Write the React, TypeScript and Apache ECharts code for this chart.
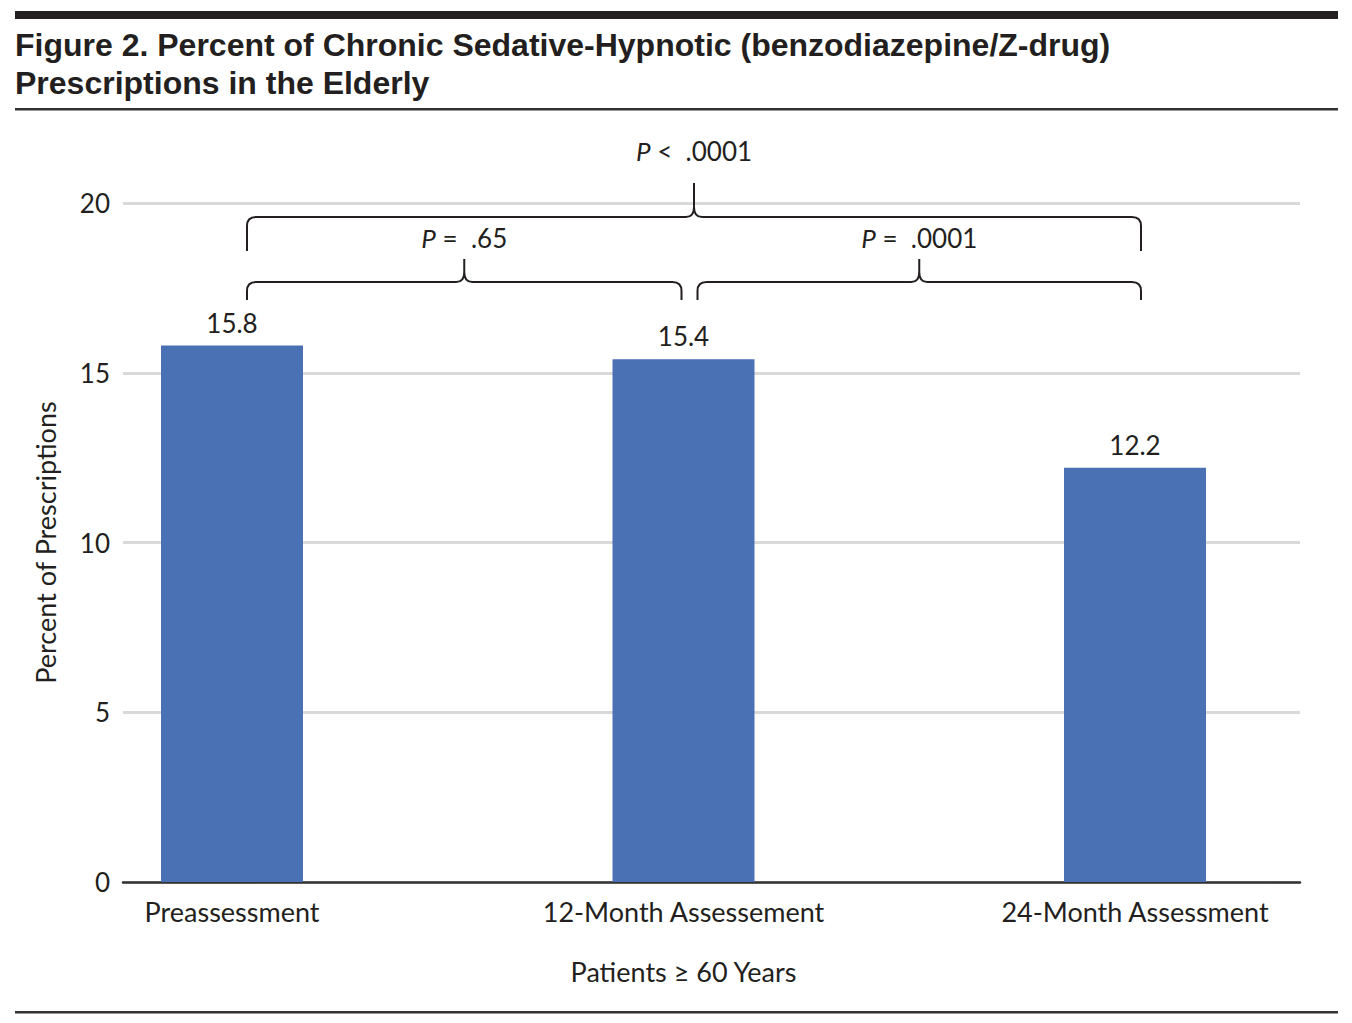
import React, { useEffect, useRef } from "react";
import * as echarts from "echarts";

const categories = ["Preassessment", "12-Month Assessement", "24-Month Assessment"];
const percentValues = [15.8, 15.4, 12.2];
const yTicks = { min: 0, max: 20, interval: 5 };
const titleLines = [
  "Figure 2. Percent of Chronic Sedative-Hypnotic (benzodiazepine/Z-drug)",
  "Prescriptions in the Elderly",
];
const yAxisName = "Percent of Prescriptions";
const xAxisName = "Patients \u2265 60 Years";

// comparison brackets: from category, to category, p-value text, level (percent units)
const bracketFrom = [0, 1, 0];
const bracketTo = [1, 2, 2];
const bracketOp = ["=", "=", "<"];
const bracketP = [".65", ".0001", ".0001"];
const bracketLevel = [17.67, 17.67, 19.59];

// drawing style of brackets (pixels)
const bracketStyle = [
  { fromOff: 15, toOff: -2, drop: 18, rise: 23, gap: 8 },
  { fromOff: 14, toOff: 6, drop: 18, rise: 23, gap: 8 },
  { fromOff: 15, toOff: 6, drop: 34, rise: 34, gap: 19 },
];

const FONT = "Lato, 'Noto Sans', sans-serif";
const TITLE_FONT = "'Liberation Sans', Arial, sans-serif";
const TXT = "#231f20";
const GRID_TOP = 203;
const GRID_BOTTOM = 141;

export default function App() {
  const ref = useRef<HTMLDivElement>(null);
  useEffect(() => {
    if (!ref.current) return;
    const chart = echarts.init(ref.current, null, { renderer: "svg" });
    const bracketData = bracketFrom.map((f, i) => [f, bracketTo[i], bracketLevel[i]]);
    chart.setOption({
      animation: false,
      backgroundColor: "#fff",
      textStyle: { fontFamily: FONT, color: TXT },
      title: titleLines.map((line, i) => ({
        text: line,
        left: 15,
        top: 27 + i * 38,
        padding: 0,
        textStyle: {
          fontFamily: TITLE_FONT,
          fontSize: 32,
          fontWeight: "bold",
          color: TXT,
          lineHeight: 36,
        },
      })),
      graphic: [
        { type: "rect", shape: { x: 15, y: 11, width: 1323, height: 8 }, style: { fill: "#231f20" } },
        { type: "rect", shape: { x: 15, y: 108, width: 1323, height: 2.5 }, style: { fill: "#333" } },
        { type: "rect", shape: { x: 15, y: 1011, width: 1323, height: 2.5 }, style: { fill: "#333" } },
      ],
      grid: [
        { left: 123, right: 52, top: GRID_TOP, bottom: GRID_BOTTOM },
        { left: 232, right: 217, top: GRID_TOP, bottom: GRID_BOTTOM },
      ],
      xAxis: [
        {
          gridIndex: 0,
          type: "value",
          min: 0,
          max: 1,
          axisLine: { show: true, onZero: false, lineStyle: { color: "#333", width: 2.5 } },
          axisTick: { show: false },
          axisLabel: { show: false },
          splitLine: { show: false },
        },
        {
          gridIndex: 1,
          type: "category",
          boundaryGap: false,
          data: categories,
          axisLine: { show: false },
          axisTick: { show: false },
          axisLabel: { fontSize: 27, color: TXT, margin: 16, fontFamily: FONT },
          name: xAxisName,
          nameLocation: "middle",
          nameGap: 76,
          nameTextStyle: { fontSize: 27, color: TXT, fontFamily: FONT },
        },
      ],
      yAxis: [
        {
          gridIndex: 0,
          type: "value",
          min: yTicks.min,
          max: yTicks.max,
          interval: yTicks.interval,
          axisLine: { show: false },
          axisTick: { show: false },
          axisLabel: { fontSize: 26, color: TXT, margin: 13, fontFamily: FONT },
          splitLine: { lineStyle: { color: "#d9d9d9", width: 3 } },
          name: yAxisName,
          nameLocation: "middle",
          nameGap: 64,
          nameRotate: 90,
          nameTextStyle: { fontSize: 27, color: TXT, fontFamily: FONT },
        },
        {
          gridIndex: 1,
          type: "value",
          min: yTicks.min,
          max: yTicks.max,
          interval: yTicks.interval,
          show: false,
          splitLine: { show: false },
        },
      ],
      series: [
        {
          type: "bar",
          xAxisIndex: 1,
          yAxisIndex: 1,
          data: percentValues,
          barWidth: 142,
          itemStyle: { color: "#4a71b4" },
          label: {
            show: true,
            position: "top",
            distance: 10,
            fontSize: 26,
            color: TXT,
            fontFamily: FONT,
          },
        },
        {
          type: "custom",
          xAxisIndex: 1,
          yAxisIndex: 1,
          clip: false,
          data: bracketData,
          renderItem: (params: any, api: any) => {
            const i = params.dataIndex;
            const s = bracketStyle[i];
            const f = api.value(0);
            const t = api.value(1);
            const lvl = api.value(2);
            const pa = api.coord([f, lvl]);
            const pb = api.coord([t, lvl]);
            const x0 = pa[0] + s.fromOff;
            const x1 = pb[0] + s.toOff;
            const y = pa[1];
            const xm = (x0 + x1) / 2;
            const yE = y + s.drop;
            const yT = y - s.rise;
            const r = 9;
            const d = [
              `M${x0},${yE}`,
              `L${x0},${y + r}`,
              `Q${x0},${y} ${x0 + r},${y}`,
              `L${xm - 8},${y}`,
              `Q${xm},${y} ${xm},${y - 10}`,
              `L${xm},${yT}`,
              `M${xm},${y - 10}`,
              `Q${xm},${y} ${xm + 8},${y}`,
              `L${x1 - r},${y}`,
              `Q${x1},${y} ${x1},${y + r}`,
              `L${x1},${yE}`,
            ].join(" ");
            return {
              type: "group",
              children: [
                {
                  type: "path",
                  shape: { pathData: d },
                  style: { stroke: "#231f20", lineWidth: 2, fill: null },
                },
                {
                  type: "text",
                  style: {
                    x: xm,
                    y: yT - s.gap,
                    text: `{i|P}{n| ${bracketOp[i]}  ${bracketP[i]}}`,
                    align: "center",
                    verticalAlign: "bottom",
                    rich: {
                      i: { fontSize: 26, fontStyle: "italic", fontFamily: FONT, fill: TXT },
                      n: { fontSize: 26, fontFamily: FONT, fill: TXT },
                    },
                  },
                },
              ],
            };
          },
        },
      ],
    });
    return () => chart.dispose();
  }, []);
  return (
    <div
      ref={ref}
      style={{ position: "absolute", left: 0, top: 0, width: 1352, height: 1023 }}
    />
  );
}
